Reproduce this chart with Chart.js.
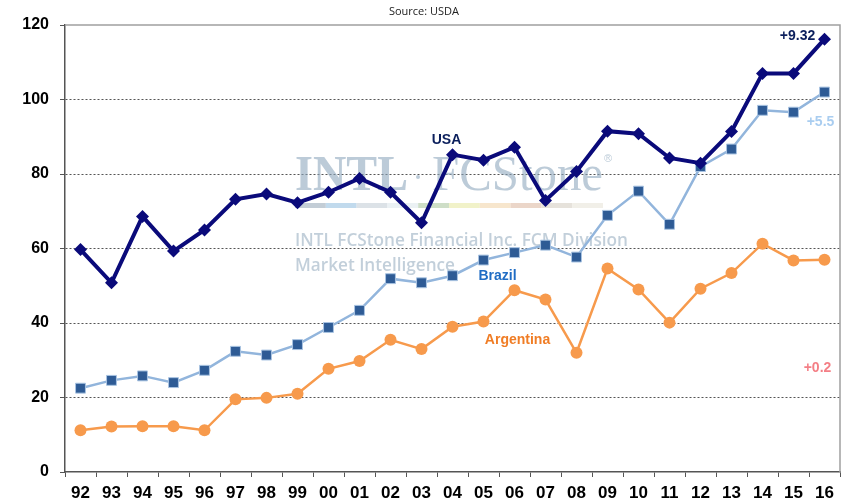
<!DOCTYPE html>
<html><head><meta charset="utf-8">
<script src="https://cdn.jsdelivr.net/npm/chart.js@4/dist/chart.umd.min.js"></script>
<style>html,body{margin:0;padding:0;background:#fff}#wrap{width:848px;height:503px;position:relative}</style>
</head><body><div id="wrap"><canvas id="c" width="848" height="503"></canvas></div>
<script>
const years = ["92","93","94","95","96","97","98","99","00","01","02","03","04","05","06","07","08","09","10","11","12","13","14","15","16"];
const usa = [59.7,50.8,68.6,59.3,65.0,73.2,74.6,72.3,75.1,78.8,75.1,66.9,85.2,83.7,87.2,72.9,80.7,91.5,90.8,84.3,82.9,91.4,107.0,107.0,116.2];
const brazil = [22.5,24.6,25.8,24.0,27.3,32.4,31.4,34.2,38.8,43.4,51.9,50.8,52.7,56.9,58.9,60.9,57.7,68.9,75.4,66.5,82.0,86.7,97.1,96.6,102.0];
const argentina = [11.2,12.2,12.3,12.3,11.2,19.5,19.9,21.0,27.7,29.8,35.5,33.0,39.0,40.4,48.8,46.3,32.0,54.6,49.0,40.1,49.2,53.4,61.3,56.8,57.0];
const yTicks = [0,20,40,60,80,100,120];
const notes = [
  {text:"USA", year:"04", value:89.0, color:"#0b1f5c", dx:-6},
  {text:"Brazil", year:"05", value:52.5, color:"#1f6cc4", dx:14},
  {text:"Argentina", year:"05", value:35.5, color:"#f07d25", dx:34},
  {text:"+9.32", year:"15", value:117.0, color:"#0b1f5c", dx:4},
  {text:"+5.5", year:"16", value:94.0, color:"#a9cdf0", dx:-4},
  {text:"+0.2", year:"16", value:28.0, color:"#f47f86", dx:-7}
];

function fitText(ctx, txt, x, y, w, font){
  ctx.font = font;
  const m = ctx.measureText(txt).width;
  ctx.save();
  ctx.translate(x, y);
  ctx.scale(w / m, 1);
  ctx.fillText(txt, 0, 0);
  ctx.restore();
}

const deco = {
  id:'deco',
  beforeDatasetsDraw(chart){
    const ctx = chart.ctx;
    ctx.save();
    ctx.textBaseline = "alphabetic";
    ctx.textAlign = "left";
    ctx.fillStyle = "rgba(140,165,188,0.58)";
    fitText(ctx, "INTL", 295, 190, 113, "bold 50px 'Liberation Serif', serif");
    fitText(ctx, "FCStone", 432, 190, 171, "50px 'Liberation Serif', serif");
    ctx.font = "11px 'Liberation Sans'";
    ctx.fillText("®", 604, 162);
    ctx.beginPath(); ctx.arc(418,177,2,0,Math.PI*2); ctx.fill();
    const segs = ["#b8c4cf","#b6d3ea","#d6dde3","#e8eef2","#c6d8bd","#eef0c0","#f6e2c4","#e7cfc0","#e2ddd5","#eeece4"];
    const w = 308/segs.length;
    segs.forEach((c,i)=>{ctx.fillStyle=c; ctx.globalAlpha=0.85; ctx.fillRect(295+i*w,203,w,5);});
    ctx.globalAlpha=1;
    ctx.fillStyle = "rgba(150,172,192,0.58)";
    fitText(ctx, "INTL FCStone Financial Inc. FCM Division", 295, 246, 333, "600 18px 'Open Sans', sans-serif");
    fitText(ctx, "Market Intelligence", 295, 271, 160, "600 18px 'Open Sans', sans-serif");
    ctx.restore();
  },
  afterDraw(chart){
    const ctx = chart.ctx, a = chart.chartArea;
    const xs = chart.scales.x, ys = chart.scales.y;
    ctx.save();
    ctx.strokeStyle = "#a0a0a0"; ctx.lineWidth = 1.5;
    ctx.beginPath();
    ctx.moveTo(a.left, a.top); ctx.lineTo(a.right, a.top); ctx.lineTo(a.right, a.bottom);
    ctx.stroke();
    ctx.fillStyle = "#222"; ctx.font = "11px 'Open Sans', sans-serif";
    ctx.textAlign = "center"; ctx.textBaseline = "middle";
    ctx.fillText("Source: USDA", 424, 12);
    ctx.font = "bold 14px 'Liberation Sans', Arial, sans-serif";
    notes.forEach(n=>{
      ctx.fillStyle = n.color;
      ctx.fillText(n.text, xs.getPixelForValue(years.indexOf(n.year)) + n.dx, ys.getPixelForValue(n.value));
    });
    ctx.restore();
  }
};

new Chart(document.getElementById('c'), {
  type:'line',
  data:{labels:years, datasets:[
    {label:"Argentina", data:argentina, borderColor:"#f79a4c", backgroundColor:"#f79a4c", borderWidth:2.5,
     pointStyle:'circle', pointRadius:6, pointBorderWidth:0, pointBackgroundColor:"#f79a4c", order:3},
    {label:"Brazil", data:brazil, borderColor:"#92b5dc", backgroundColor:"#2e5b95", borderWidth:2.5,
     pointStyle:'rect', pointRadius:7, pointBorderColor:"#a9c4e2", pointBorderWidth:1, pointBackgroundColor:"#2e5b95", order:2},
    {label:"USA", data:usa, borderColor:"#0a0a7a", backgroundColor:"#0a0a7a", borderWidth:4,
     pointStyle:'rectRot', pointRadius:6.5, pointBorderWidth:0, pointBackgroundColor:"#0a0a7a", order:1}
  ]},
  options:{
    responsive:false, animation:false, devicePixelRatio:1,
    layout:{padding:{top:25,right:4,left:0,bottom:0}},
    plugins:{legend:{display:false}, tooltip:{enabled:false}},
    elements:{line:{tension:0}},
    scales:{
      x:{offset:true,
        grid:{display:true, drawOnChartArea:false, drawTicks:true, tickLength:5, color:"#555", offset:true},
        border:{display:true, color:"#555", width:1.5},
        ticks:{color:"#000", font:{family:"'Liberation Sans', Arial, sans-serif", size:17, weight:'bold'}, padding:6, maxRotation:0, autoSkip:false},
        afterFit(s){s.height=31;}
      },
      y:{min:0,max:120,
        afterBuildTicks(s){s.ticks = yTicks.map(v=>({value:v}));},
        grid:{color:(c)=> (c.tick && (c.tick.value===0||c.tick.value===120)) ? "rgba(0,0,0,0)" : "#555", tickColor:"#555", tickLength:5, lineWidth:1},
        border:{display:true, color:"#555", width:1.5, dash:[2,2]},
        ticks:{color:"#000", font:{family:"'Liberation Sans', Arial, sans-serif", size:16, weight:'bold'}, padding:11},
        afterFit(s){s.width=65;}
      }
    }
  },
  plugins:[deco]
});
</script></body></html>
